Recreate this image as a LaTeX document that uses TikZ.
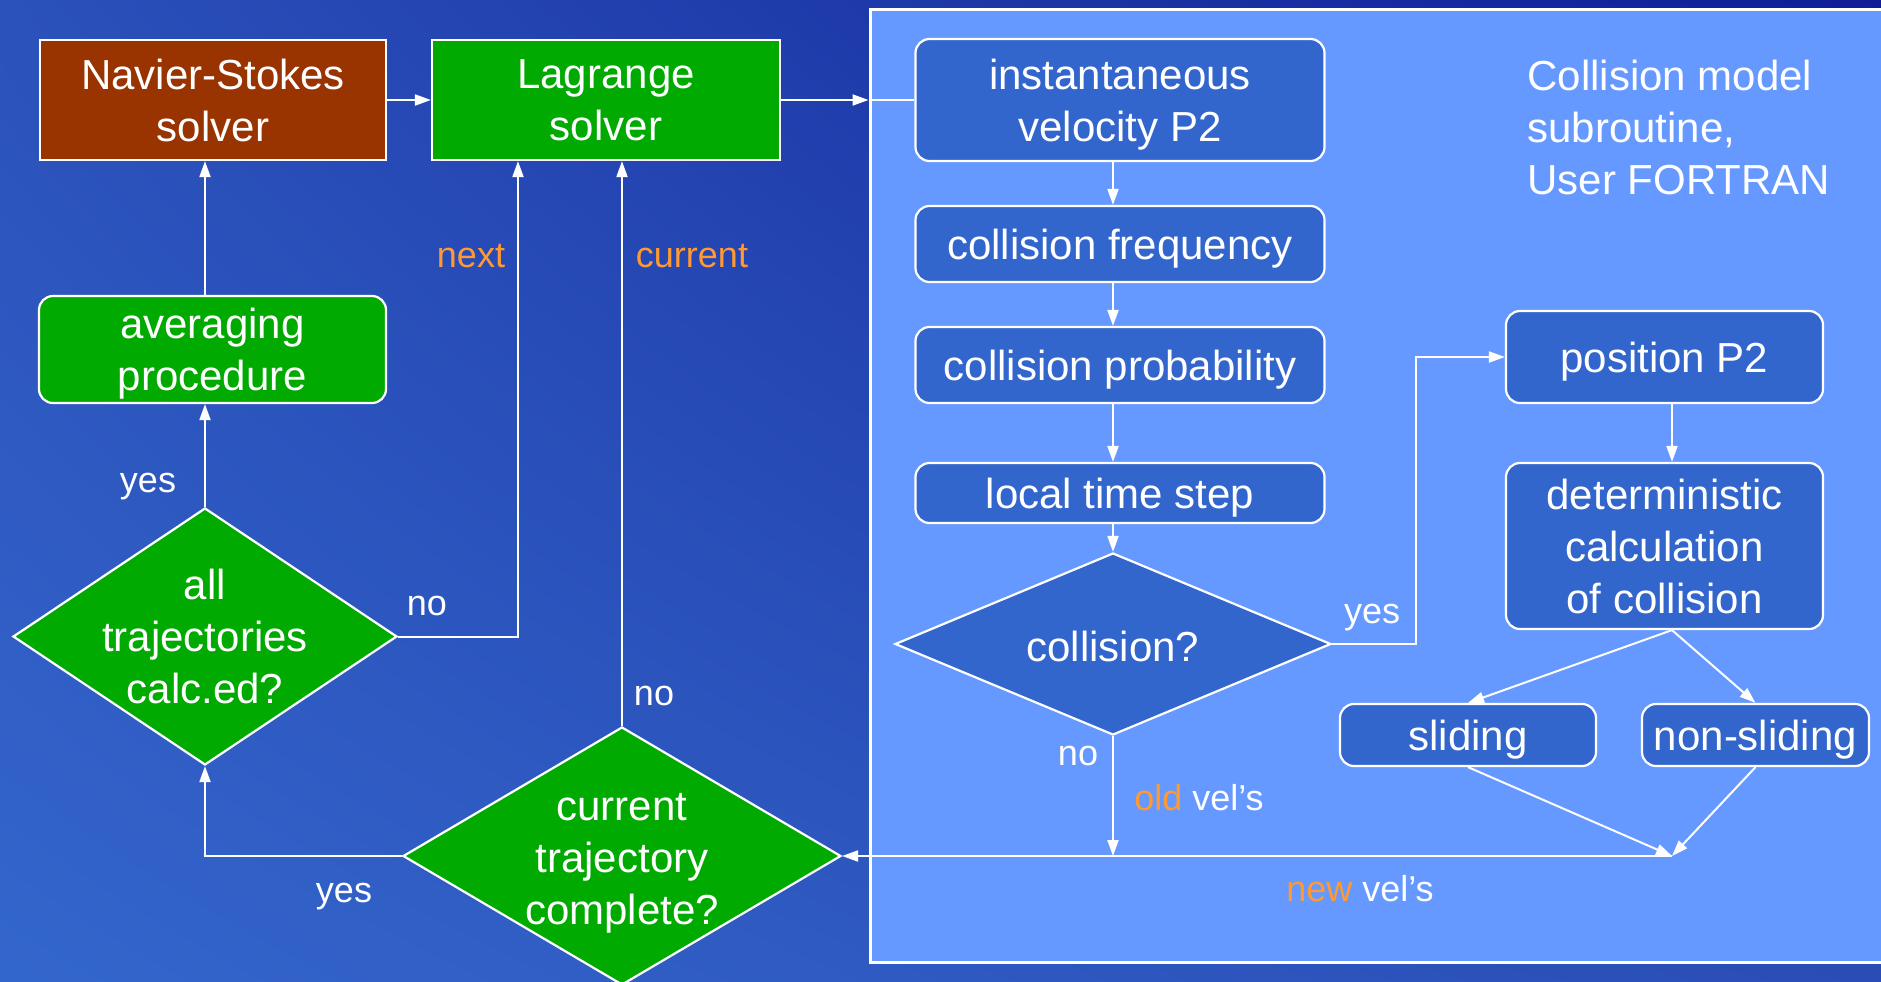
\documentclass[tikz,border=0pt]{standalone}
\usepackage{fontspec}
\setmainfont{Liberation Sans}
\usetikzlibrary{shapes.geometric,arrows.meta,shadings}

\definecolor{bgul}{HTML}{2B51BA}
\definecolor{bgur}{HTML}{0F1E96}
\definecolor{bgll}{HTML}{3366CC}
\definecolor{bglr}{HTML}{2A4DB5}
\definecolor{panelblue}{HTML}{6699FF}
\definecolor{inbox}{HTML}{3366CC}
\definecolor{lgreen}{HTML}{00AA00}
\definecolor{nsbrown}{HTML}{993300}
\definecolor{lorange}{HTML}{FF9933}

\tikzset{
  txt/.style={text=white, font=\fontsize{21}{26}\selectfont, align=center, text depth=0pt},
  lbl/.style={text=white, font=\fontsize{18}{21}\selectfont, inner sep=0pt, anchor=base},
  sqbox/.style={draw=white, line width=1.1pt, txt, inner sep=0pt},
  rbox/.style={sqbox, rounded corners=7pt, fill=inbox},
  decision/.style={diamond, draw=white, line width=1.1pt, inner sep=0pt},
  flow/.style={draw=white, line width=1pt, -{Triangle[length=8pt,width=5.5pt]}},
  plain/.style={draw=white, line width=1pt},
}

\begin{document}
\begin{tikzpicture}[x=0.5pt,y=0.5pt,yscale=-1]
\useasboundingbox (0,0) rectangle (1881,981);

%Background
\shade[upper left=bgul, upper right=bgur, lower left=bgll, lower right=bglr] (0,0) rectangle (1881,981);

%Shape: Navier-Stokes solver
\node[sqbox, fill=nsbrown, minimum width=173pt, minimum height=60pt] (ns) at (213,100) {Navier-Stokes\\solver};
%Shape: Lagrange solver
\node[sqbox, fill=lgreen, minimum width=174pt, minimum height=60pt] (lag) at (606,100) {Lagrange\\solver};
%Shape: averaging
\node[sqbox, rounded corners=7pt, fill=lgreen, minimum width=173.5pt, minimum height=53.5pt] (avg) at (212.5,349.5) {averaging\\procedure};
%Shape: Diamond all trajectories
\node[decision, fill=lgreen, minimum width=192pt, minimum height=128.5pt] (alltraj) at (205,636.5) {};
\node[txt] (alltrajtxt) at (alltraj) {all\\trajectories\\calc.ed?};
%Shape: Diamond current trajectory
\node[decision, fill=lgreen, minimum width=219pt, minimum height=129pt] (curtraj) at (622,856) {};
\node[txt] (curtrajtxt) at (622,859) {current\\trajectory\\complete?};

%Shape: subroutine panel
\node[draw=white, line width=1.5pt, fill=panelblue, minimum width=512.5pt, minimum height=476.5pt, inner sep=0pt] (subr) at (1382.5,485.5) {};
\node[txt, align=left, anchor=north west, inner sep=0pt] (title) at (1527,60) {Collision model\\subroutine,\\User FORTRAN};

%Shape: collision model steps
\node[rbox, minimum width=204.5pt, minimum height=61pt] (inst) at (1120,100) {instantaneous\\velocity P2};
\node[rbox, minimum width=204.5pt, minimum height=38pt] (freq) at (1120,244) {collision frequency};
\node[rbox, minimum width=204.5pt, minimum height=38pt] (prob) at (1120,365) {collision probability};
\node[rbox, minimum width=204.5pt, minimum height=30pt] (tstep) at (1120,493) {local time step};
\node[decision, fill=inbox, minimum width=218pt, minimum height=91pt] (coll) at (1113,644) {};
\node[txt] (colltxt) at (1113,646) {collision?};
\node[rbox, minimum width=158.5pt, minimum height=46pt] (pos) at (1664.5,357) {position P2};
\node[rbox, minimum width=158.5pt, minimum height=83pt] (det) at (1664.5,546) {deterministic\\calculation\\of collision};
\node[rbox, minimum width=128pt, minimum height=31pt] (slide) at (1468,735) {sliding};
\node[rbox, minimum width=113.5pt, minimum height=31pt] (nslide) at (1755.5,735) {non-sliding};
\coordinate (merge) at (1672,856);

%Straight Lines
\draw[flow] (ns.east) -- (lag.west);
\draw[flow] (lag.east) -- (lag.east -| subr.west);
\draw[plain] (lag.east -| subr.west) -- (inst.west);
\draw[flow] (avg.north -| alltraj.north) -- (ns.south -| alltraj.north);
\draw[flow] (alltraj.north) -- (avg.south -| alltraj.north);
\draw[flow] (alltraj.east) -| ([xshift=-44pt]lag.south);
\draw[flow] (curtraj.north) -- (curtraj.north |- lag.south);
\draw[flow] (curtraj.west) -| (alltraj.south);
\draw[flow] (inst.south -| coll.north) -- (freq.north -| coll.north);
\draw[flow] (freq.south -| coll.north) -- (prob.north -| coll.north);
\draw[flow] (prob.south -| coll.north) -- (tstep.north -| coll.north);
\draw[flow] (tstep.south -| coll.north) -- (coll.north);
\draw[flow] (coll.east) -- ++(84,0) |- (pos.west);
\draw[flow] (pos.south -| merge) -- (det.north -| merge);
\draw[flow] (det.south -| merge) -- (slide.north);
\draw[flow] (det.south -| merge) -- (nslide.north);
\draw[flow] (slide.south) -- (merge);
\draw[flow] (nslide.south) -- (merge);
\draw[flow] (coll.south) -- (coll.south |- merge);
\draw[flow] (merge) -- (curtraj.east);

% Text Node
\node[lbl, text=lorange] (nextlbl) at (471,267) {next};
% Text Node
\node[lbl, text=lorange] (curlbl) at (692,267) {current};
% Text Node
\node[lbl] (yesavg) at (148,492) {yes};
% Text Node
\node[lbl] (noall) at (427,615) {no};
% Text Node
\node[lbl] (nocur) at (654,705) {no};
% Text Node
\node[lbl] (yescur) at (344,902) {yes};
% Text Node
\node[lbl] (yescoll) at (1372,623) {yes};
% Text Node
\node[lbl] (nocoll) at (1078,765) {no};
% Text Node
\node[lbl] (oldlbl) at (1199,810) {\textcolor{lorange}{old} vel’s};
% Text Node
\node[lbl] (newlbl) at (1360,901) {\textcolor{lorange}{new} vel’s};

\end{tikzpicture}
\end{document}
